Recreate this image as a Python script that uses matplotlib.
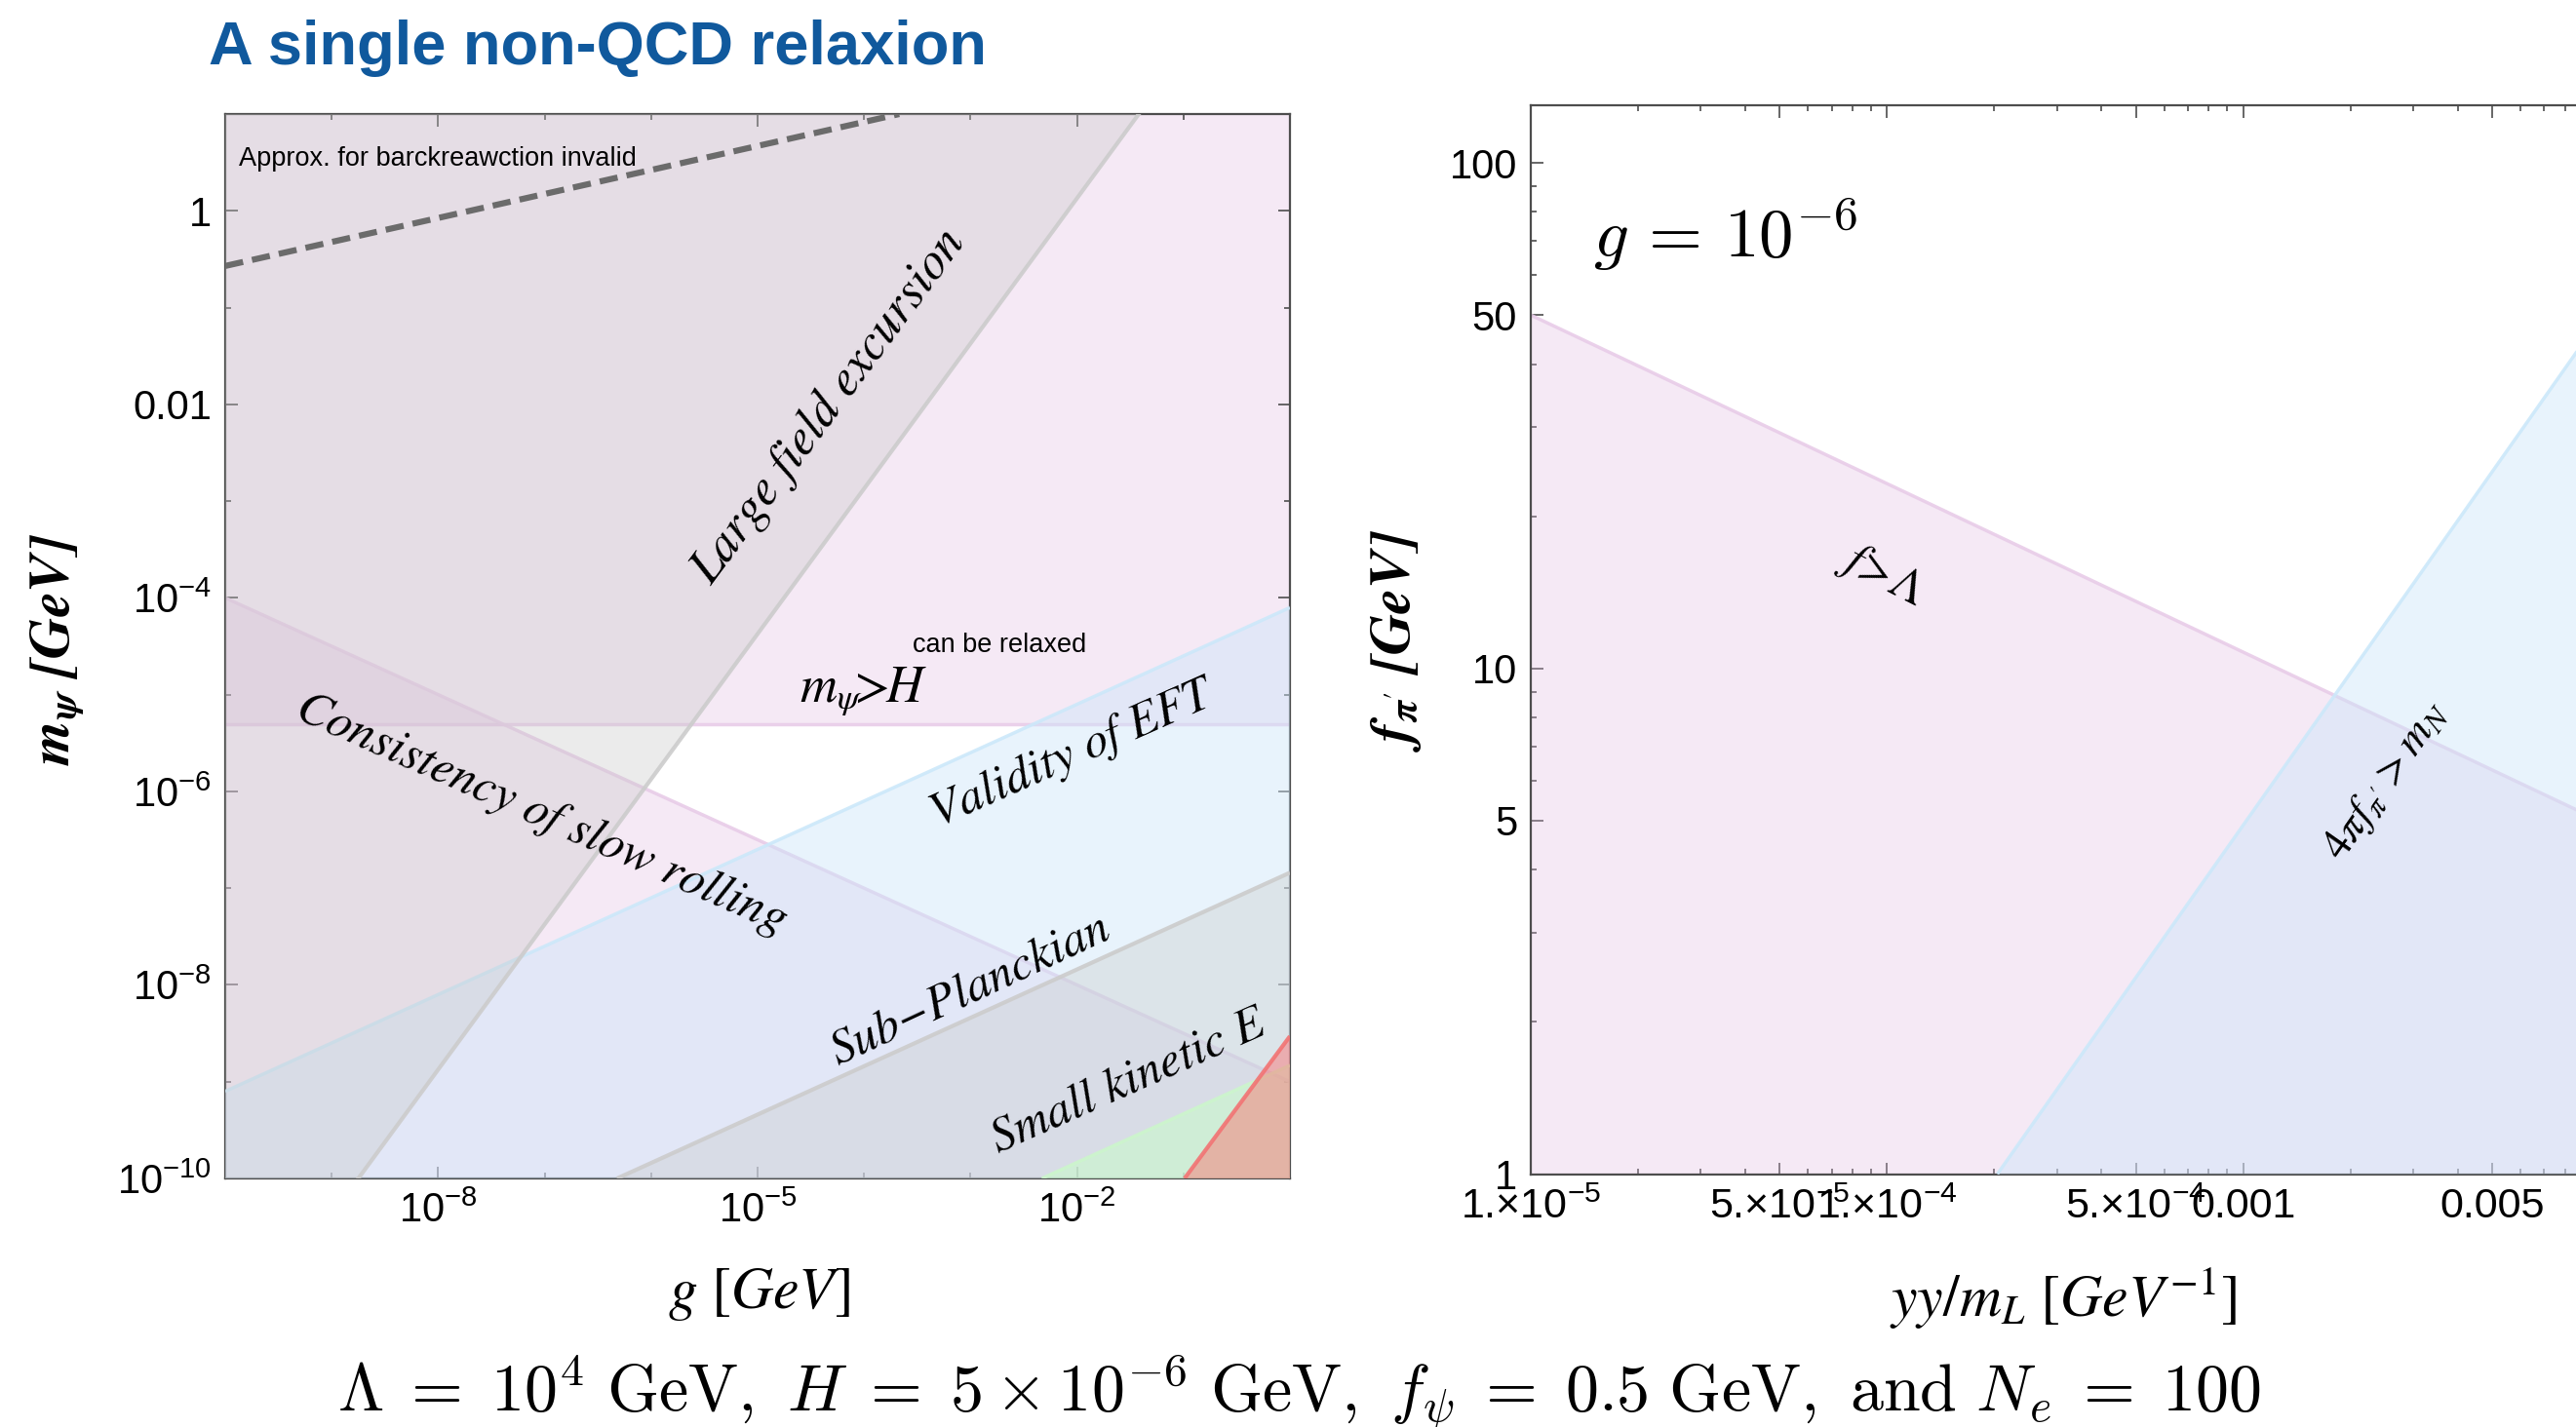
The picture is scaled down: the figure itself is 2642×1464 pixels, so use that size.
import matplotlib

matplotlib.use("Agg")
import matplotlib.pyplot as plt
import numpy as np
from matplotlib.patches import Polygon
from matplotlib.ticker import FixedFormatter, FixedLocator, LogLocator, NullFormatter

# ---------------- left panel: m_psi vs g ----------------
G_LIM = [1e-10, 1.0]
M_LIM = [1e-10, 10.0]
H_SCALE = 5e-6

# boundary lines as (g, m) end points
LARGE_FIELD_G = [10**-8.75, 10**-1.42]
LARGE_FIELD_M = [1e-10, 10.0]
SLOW_ROLL_G = [1e-10, 1.0]
SLOW_ROLL_M = [1e-4, 1e-9]
EFT_G = [1e-10, 1.0]
EFT_M = [10**-9.1, 10**-4.1]
SUB_PLANCK_G = [10**-6.32, 1.0]
SUB_PLANCK_M = [1e-10, 10**-6.84]
KINETIC_G = [10**-2.33, 1.0]
KINETIC_M = [1e-10, 10**-8.83]
RED_G = [10**-0.99, 1.0]
RED_M = [1e-10, 10**-8.53]
BACKREACTION_G = [1e-10, 10**-3.67]
BACKREACTION_M = [10**-0.57, 10.0]

LEFT_XTICKS = [1e-8, 1e-5, 1e-2]
LEFT_XTICKLABELS = [r"$10^{-8}$", r"$10^{-5}$", r"$10^{-2}$"]
LEFT_YTICKS = [1.0, 1e-2, 1e-4, 1e-6, 1e-8, 1e-10]
LEFT_YTICKLABELS = ["1", "0.01", r"$10^{-4}$", r"$10^{-6}$", r"$10^{-8}$", r"$10^{-10}$"]

# ---------------- right panel: f_pi' vs yy/m_L ----------------
Y_LIM = [1e-5, 1e-2]
F_LIM = [1.0, 130.0]
F_LAMBDA_Y = [1e-5, 1e-2]
F_LAMBDA_F = [50.0, 5.0]
MN_Y = [10**-3.69, 1e-2]
MN_F = [1.0, 10**1.69]

RIGHT_XTICKS = [1e-5, 5e-5, 1e-4, 5e-4, 1e-3, 5e-3]
RIGHT_XTICKLABELS = [r"1.×10$^{-5}$", r"5.×10$^{-5}$", r"1.×10$^{-4}$",
                     r"5.×10$^{-4}$", "0.001", "0.005"]
RIGHT_YTICKS = [1, 5, 10, 50, 100]
RIGHT_YTICKLABELS = ["1", "5", "10", "50", "100"]

# ---------------- style ----------------
W, H = 2642, 1464
PINK = (0.87, 0.72, 0.87, 0.30)
PINK_EDGE = (0.91, 0.80, 0.91, 0.9)
BLUE = (0.80, 0.90, 0.98, 0.45)
BLUE_EDGE = (0.80, 0.91, 0.98, 0.9)
GRAY = (0.78, 0.78, 0.78, 0.34)
GRAY_EDGE = (0.80, 0.80, 0.80, 0.9)
GREEN = (0.78, 1.0, 0.78, 0.5)
GREEN_EDGE = (0.80, 0.96, 0.80, 0.9)
RED = (1.0, 0.39, 0.39, 0.42)
RED_EDGE = (0.95, 0.45, 0.45, 0.9)
SPINE = "#4d4d4d"
TITLE_BLUE = "#10599d"

plt.rcParams["font.family"] = ["Liberation Sans", "DejaVu Sans"]
plt.rcParams["mathtext.fontset"] = "custom"
plt.rcParams["mathtext.rm"] = "Liberation Sans"
plt.rcParams["mathtext.it"] = "Liberation Sans:italic"
plt.rcParams["mathtext.bf"] = "Liberation Sans:bold"

HAS_BFIT = "mathtext.bfit" in plt.rcParams


def fx(x):
    return x / W


def fy(y):
    return 1 - y / H


def below(ax, xs, ys, xlim, ylim, color, edge, lw, z):
    verts = list(zip(xs, ys)) + [(xlim[1], ylim[0]), (xs[0], ylim[0])]
    ax.add_patch(Polygon(verts, closed=True, facecolor=color, edgecolor="none", zorder=z))
    ax.plot(xs, ys, color=edge, lw=lw, zorder=z + 0.1, solid_capstyle="butt")


def style_axes(ax):
    for s in ax.spines.values():
        s.set_color(SPINE)
        s.set_linewidth(1.6)
    ax.tick_params(which="both", direction="in", top=True, right=True,
                   color=SPINE, width=1.2, labelsize=30, pad=10)
    ax.tick_params(which="major", length=9)
    ax.tick_params(which="minor", length=4.5)


fig = plt.figure(figsize=(W / 100, H / 100), dpi=100)

# ================= left panel =================
axl = fig.add_axes([fx(231), fy(1209), (1323 - 231) / W, (1209 - 117) / H])
axl.set_xscale("log")
axl.set_yscale("log")
axl.set_xlim(G_LIM)
axl.set_ylim(M_LIM)

# m_psi > H
axl.fill_between(G_LIM, [H_SCALE, H_SCALE], [M_LIM[1], M_LIM[1]], color=PINK, lw=0, zorder=1)
axl.plot(G_LIM, [H_SCALE, H_SCALE], color=PINK_EDGE, lw=2.5, zorder=1.1)
# consistency of slow rolling
below(axl, SLOW_ROLL_G, SLOW_ROLL_M, G_LIM, M_LIM, PINK, PINK_EDGE, 2.5, 2)
# validity of EFT
below(axl, EFT_G, EFT_M, G_LIM, M_LIM, BLUE, BLUE_EDGE, 2.5, 3)
# large field excursion (left of the line)
verts = [(LARGE_FIELD_G[0], LARGE_FIELD_M[0]), (LARGE_FIELD_G[1], LARGE_FIELD_M[1]),
         (G_LIM[0], M_LIM[1]), (G_LIM[0], M_LIM[0])]
axl.add_patch(Polygon(verts, closed=True, facecolor=GRAY, edgecolor="none", zorder=4))
axl.plot(LARGE_FIELD_G, LARGE_FIELD_M, color=GRAY_EDGE, lw=3, zorder=4.1)
# sub-planckian
below(axl, SUB_PLANCK_G, SUB_PLANCK_M, G_LIM, M_LIM, GRAY, GRAY_EDGE, 3, 5)
# small kinetic energy
below(axl, KINETIC_G, KINETIC_M, G_LIM, M_LIM, GREEN, GREEN_EDGE, 2.5, 6)
below(axl, RED_G, RED_M, G_LIM, M_LIM, RED, RED_EDGE, 3, 7)
# backreaction approximation
axl.plot(BACKREACTION_G, BACKREACTION_M, color="#6b6b6b", lw=4.5,
         dashes=(3.0, 1.5), zorder=8)

axl.xaxis.set_major_locator(FixedLocator(LEFT_XTICKS))
axl.xaxis.set_major_formatter(FixedFormatter(LEFT_XTICKLABELS))
axl.xaxis.set_minor_locator(LogLocator(base=10, subs=[1.0], numticks=20))
axl.xaxis.set_minor_formatter(NullFormatter())
axl.yaxis.set_major_locator(FixedLocator(LEFT_YTICKS))
axl.yaxis.set_major_formatter(FixedFormatter(LEFT_YTICKLABELS))
axl.yaxis.set_minor_locator(LogLocator(base=10, subs=[1.0], numticks=20))
axl.yaxis.set_minor_formatter(NullFormatter())
style_axes(axl)

serif_it = dict(family=["STIXGeneral", "DejaVu Serif"], style="italic",
                color="black", ha="center", va="center", rotation_mode="anchor", zorder=10)
axl.text(0.013, 0.958, "Approx. for barckreawction invalid", transform=axl.transAxes,
         fontsize=19.5, ha="left", va="center", zorder=10)
axl.text(0.567, 0.725, "Large field excursion", transform=axl.transAxes,
         fontsize=37, rotation=53.5, **serif_it)
axl.text(0.727, 0.501, "can be relaxed", transform=axl.transAxes,
         fontsize=19.5, ha="center", va="center", zorder=10)
axl.text(0.599, 0.458, r"$m_\psi\!\!>\!\!H$", transform=axl.transAxes, fontsize=38,
         ha="center", va="center", math_fontfamily="stix", zorder=10)
axl.text(0.297, 0.342, "Consistency of slow rolling", transform=axl.transAxes,
         fontsize=36, rotation=-24, **serif_it)
axl.text(0.795, 0.398, "Validity of EFT", transform=axl.transAxes,
         fontsize=36, rotation=24, **serif_it)
axl.text(0.700, 0.177, "Sub\u2212Planckian", transform=axl.transAxes,
         fontsize=36, rotation=25, **serif_it)
axl.text(0.848, 0.091, "Small kinetic E", transform=axl.transAxes,
         fontsize=36, rotation=24, **serif_it)

# ================= right panel =================
axr = fig.add_axes([fx(1570), fy(1204.5), 1096 / W, (1204.5 - 108) / H])
axr.set_xscale("log")
axr.set_yscale("log")
axr.set_xlim(Y_LIM)
axr.set_ylim(F_LIM)

below(axr, F_LAMBDA_Y, F_LAMBDA_F, Y_LIM, F_LIM, PINK, PINK_EDGE, 2.5, 2)
below(axr, MN_Y, MN_F, Y_LIM, F_LIM, BLUE, BLUE_EDGE, 2.5, 3)

axr.xaxis.set_major_locator(FixedLocator(RIGHT_XTICKS))
axr.xaxis.set_major_formatter(FixedFormatter(RIGHT_XTICKLABELS))
axr.xaxis.set_minor_locator(LogLocator(base=10, subs=np.arange(2, 10), numticks=20))
axr.xaxis.set_minor_formatter(NullFormatter())
axr.yaxis.set_major_locator(FixedLocator(RIGHT_YTICKS))
axr.yaxis.set_major_formatter(FixedFormatter(RIGHT_YTICKLABELS))
axr.yaxis.set_minor_locator(LogLocator(base=10, subs=np.arange(2, 10), numticks=20))
axr.yaxis.set_minor_formatter(NullFormatter())
style_axes(axr)
axr.tick_params(axis="x", labelsize=31)

axr.text(0.058, 0.858, r"$g\,=\,10^{-6}$", transform=axr.transAxes, fontsize=51,
         ha="left", va="baseline", math_fontfamily="cm", zorder=10)
axr.text(0.328, 0.560, r"$f\!>\!\Lambda$", transform=axr.transAxes, fontsize=35,
         ha="center", va="center", rotation=-27, rotation_mode="anchor",
         math_fontfamily="stix", zorder=10)
axr.text(0.801, 0.368, r"$4\pi f_{\pi^{\prime}} > m_N$", transform=axr.transAxes, fontsize=33,
         ha="center", va="center", rotation=55, rotation_mode="anchor",
         math_fontfamily="stix", zorder=10)

# ================= labels & titles =================
if HAS_BFIT:
    ylab_l = r"$\mathbfit{m}_{\mathbfit{\psi}}\ \mathbfit{[GeV]}$"
    ylab_r = r"$\mathbfit{f}_{\mathbfit{\pi}^{\prime}}\ \mathbfit{[GeV]}$"
else:
    ylab_l = r"$m_\psi\ [GeV]$"
    ylab_r = r"$f_{\pi^{\prime}}\ [GeV]$"
fig.text(fx(59), fy(666), ylab_l, fontsize=42, rotation=90,
         ha="center", va="center", math_fontfamily="stix")
fig.text(fx(1432), fy(657), ylab_r, fontsize=42, rotation=90,
         ha="center", va="center", math_fontfamily="stix")
fig.text(fx(778), fy(1328), r"$g\ [GeV]$", fontsize=43, ha="center", va="center",
         math_fontfamily="stix")
fig.text(fx(2116), fy(1331), r"$yy/m_L\ [GeV^{-1}]$", fontsize=43, ha="center",
         va="center", math_fontfamily="stix")

fig.text(fx(214), fy(66), "A single non-QCD relaxion", fontsize=45.5, fontweight="bold",
         color=TITLE_BLUE, ha="left", va="baseline")
fig.text(fx(1333), fy(1448),
         r"$\Lambda\;=\;10^4\ \mathrm{GeV},\ H\;=\;5\times10^{-6}\ \mathrm{GeV},\ "
         r"f_\psi\;=\;0.5\ \mathrm{GeV},\ \mathrm{and}\ N_e\;=\;100$",
         fontsize=49, ha="center", va="baseline", math_fontfamily="cm")

fig.savefig("out.png", dpi=100)
